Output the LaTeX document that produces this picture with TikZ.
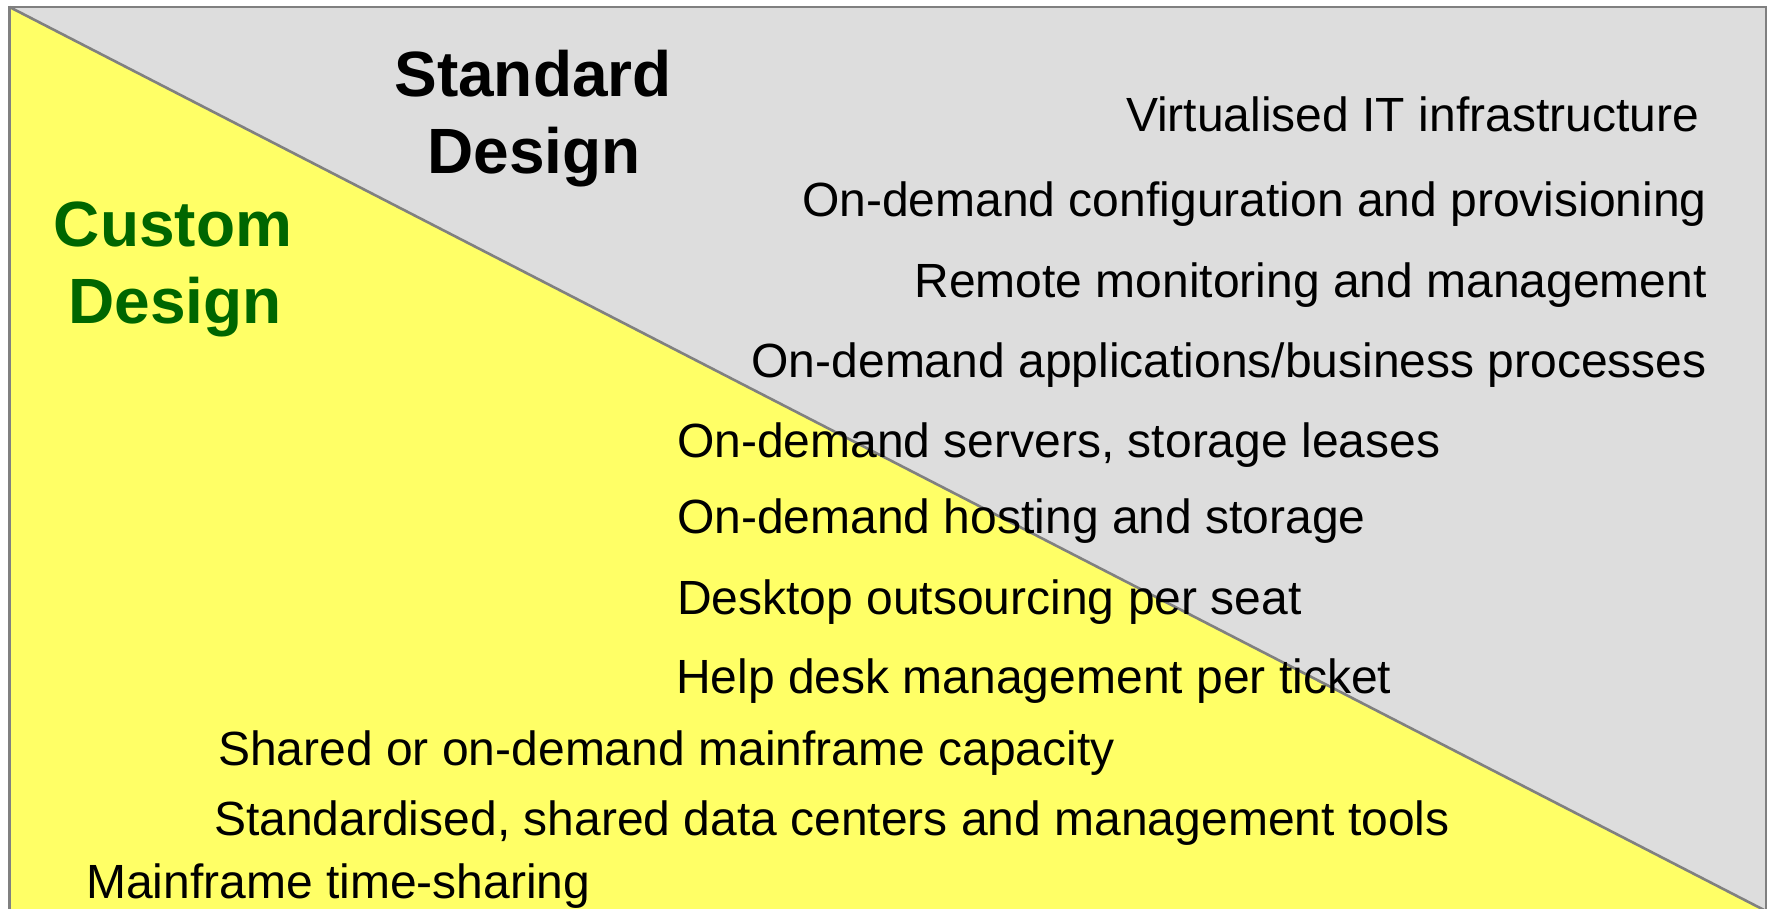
\documentclass[tikz,border=0pt]{standalone}
\usepackage{fontspec}
\setmainfont{Liberation Sans}
\definecolor{stdgray}{HTML}{DDDDDD}
\definecolor{custyellow}{HTML}{FFFF66}
\definecolor{framegray}{HTML}{808080}
\definecolor{custgreen}{HTML}{006600}
\begin{document}
\begin{tikzpicture}[x=1pt,y=-1pt,
  item/.style={inner sep=0pt,font=\fontsize{48}{58}\selectfont},
  itemR/.style={item,anchor=base east},
  itemL/.style={item,anchor=base west},
  head/.style={inner sep=0pt,anchor=base,font=\bfseries\fontsize{64}{72}\selectfont},
  frame/.style={draw=framegray,line width=2.6pt}]
\useasboundingbox (0,0) rectangle (1779,909);
\begin{scope}
\clip (0,0) rectangle (1779,909);
% corners of the panel
\coordinate (tl) at (9.5,7);
\coordinate (tr) at (1766,7);
\coordinate (br) at (1766,911);
\coordinate (bl) at (9.5,911);
% standard half (grey) and custom half (yellow)
\fill[stdgray] (tl) rectangle (br);
\fill[custyellow] (tl) -- (br) -- (bl) -- cycle;
\draw[frame] (tl) -- (br);
\draw[frame] (bl) -- (tl) -- (tr) -- (br) -- cycle;
\end{scope}

% headings
\node[head] (stdA) at (533,97) {Standard};
\node[head] (stdB) at (534,174) {Design};
\node[head,text=custgreen] (cusA) at (173,247) {Custom};
\node[head,text=custgreen] (cusB) at (175,323) {Design};

% offerings, standard side
\node[itemR] (l1) at (1699,132) {Virtualised IT infrastructure};
\node[itemR] (l2) at (1707,217) {On-demand configuration and provisioning};
\node[itemR] (l3) at (1707,297) {Remote monitoring and management};
\node[itemR] (l4) at (1707,377) {On-demand applications/business processes};
% offerings across the divide
\node[itemL] (l5) at (677,457) {On-demand servers, storage leases};
\node[itemL] (l6) at (677,533) {On-demand hosting and storage};
\node[itemL] (l7) at (677,614) {Desktop outsourcing per seat};
\node[itemL] (l8) at (676,693) {Help desk management per ticket};
% offerings, custom side
\node[itemL] (l9) at (218,765) {Shared or on-demand mainframe capacity};
\node[itemL] (l10) at (214,835) {Standardised, shared data centers and management tools};
\node[itemL] (l11) at (86,898) {Mainframe time-sharing};
\end{tikzpicture}
\end{document}
